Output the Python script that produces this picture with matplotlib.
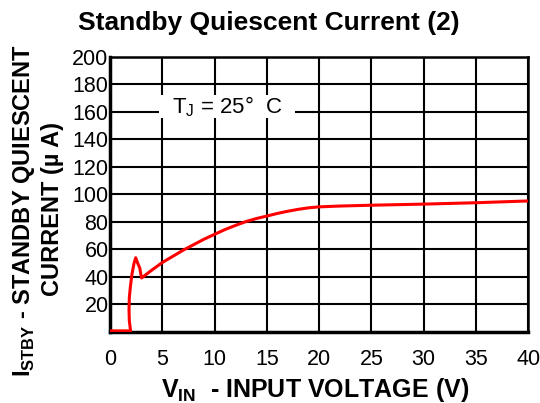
import matplotlib

matplotlib.use("Agg")
import matplotlib.pyplot as plt
from matplotlib.patches import Rectangle

plt.rcParams["font.family"] = ["Liberation Sans", "DejaVu Sans"]

# curve
vin = [0, 1.97, 1.85, 1.82, 1.85, 1.95, 2.1, 2.3, 2.46, 2.65, 2.85, 2.95, 3.02,
       4, 5, 6, 7, 8, 9, 10, 11, 12, 13, 14, 15, 16, 17, 18, 19, 20,
       22, 25, 30, 35, 40]
istby = [0.8, 0.8, 8, 16, 25, 33, 42, 50, 54, 50, 46.5, 42, 39.3,
         45, 50.5, 55, 59.5, 63.5, 67.5, 71, 74.5, 77.5, 80.3, 82.5, 84.3, 86.2, 87.8, 89.2, 90.3, 91,
         91.6, 92.2, 93, 94, 95.3]

x_ticks = [0, 5, 10, 15, 20, 25, 30, 35, 40]
y_ticks = [20, 40, 60, 80, 100, 120, 140, 160, 180, 200]

fig = plt.figure(figsize=(5.4, 4.03), dpi=100)
ax = fig.add_axes([0.2037, 0.1762, 0.7743, 0.6824])

ax.set_xlim(0, 40)
ax.set_ylim(0, 200)
ax.set_xticks(x_ticks)
ax.set_yticks(y_ticks)
ax.tick_params(length=0, labelsize=15.5)
ax.tick_params(axis="x", pad=12)
ax.tick_params(axis="y", pad=1)
ax.grid(True, color="black", linewidth=1.5)
ax.set_axisbelow(True)
for side, sp in ax.spines.items():
    sp.set_linewidth(2.5 if side in ("left", "bottom") else 1.8)

ax.plot(vin, istby, color="#ff0000", linewidth=2.2, solid_joinstyle="round", zorder=3)

# white label box that blanks the grid behind the temperature note
ax.add_patch(Rectangle((4.7, 155.5), 13.0, 17.0, facecolor="white", edgecolor="none", zorder=2))
ax.text(11.2, 164, "T$_\\mathregular{J}$ = 25°  C", fontsize=16, ha="center", va="center", zorder=4)

fig.text(0.497, 0.943, "Standby Quiescent Current (2)", fontsize=19, fontweight="bold",
         ha="center", va="center")
fig.text(0.584, 0.032, "V$_\\mathregular{IN}$  - INPUT VOLTAGE (V)", fontsize=18,
         fontweight="bold", ha="center", va="center")
fig.text(0.044, 0.478, "I$_\\mathregular{STBY}$ - STANDBY QUIESCENT", fontsize=17,
         fontweight="bold", rotation=90, ha="center", va="center")
fig.text(0.098, 0.481, "CURRENT (µ A)", fontsize=17, fontweight="bold",
         rotation=90, ha="center", va="center")

fig.savefig("out.png", dpi=100)
